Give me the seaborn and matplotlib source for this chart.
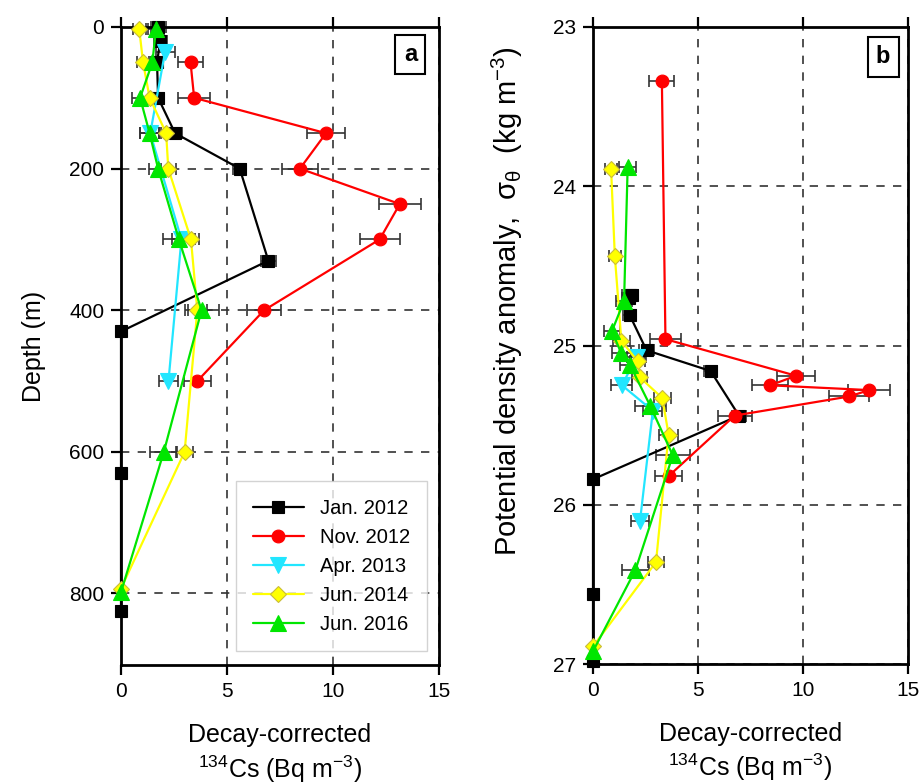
import matplotlib
matplotlib.use("Agg")
import matplotlib.pyplot as plt
import seaborn as sns
import pandas as pd

# ---------------- data ----------------
series_labels = ["Jan. 2012", "Nov. 2012", "Apr. 2013", "Jun. 2014", "Jun. 2016"]
series_colors = ["#000000", "#ff0000", "#22e6ff", "#ffff00", "#00e600"]
series_markers = ["s", "o", "v", "D", "^"]

jan2012_depth = [0, 20, 50, 100, 150, 200, 330, 430, 630, 825]
jan2012_sigma = [24.68, 24.68, 24.70, 24.81, 25.03, 25.16, 25.44, 25.84, 26.56, 26.98]
jan2012_cs = [1.75, 1.85, 1.70, 1.75, 2.55, 5.60, 6.95, 0.0, 0.0, 0.0]
jan2012_err = [0.35, 0.30, 0.30, 0.30, 0.35, 0.30, 0.35, 0.0, 0.0, 0.0]

nov2012_depth = [50, 100, 150, 200, 250, 300, 400, 500]
nov2012_sigma = [23.34, 24.96, 25.19, 25.25, 25.28, 25.32, 25.44, 25.82]
nov2012_cs = [3.28, 3.45, 9.67, 8.44, 13.15, 12.20, 6.75, 3.60]
nov2012_err = [0.60, 0.75, 0.90, 0.85, 1.00, 0.95, 0.80, 0.65]

apr2013_depth = [35, 150, 300, 500]
apr2013_sigma = [25.07, 25.25, 25.41, 26.10]
apr2013_cs = [2.08, 1.38, 2.85, 2.24]
apr2013_err = [0.45, 0.50, 0.45, 0.43]

jun2014_depth = [3, 50, 100, 150, 200, 300, 400, 600, 793]
jun2014_sigma = [23.89, 24.44, 24.97, 25.10, 25.20, 25.33, 25.56, 26.36, 26.89]
jun2014_cs = [0.86, 1.04, 1.35, 2.13, 2.23, 3.30, 3.60, 3.00, 0.0]
jun2014_err = [0.30, 0.30, 0.40, 0.35, 0.35, 0.40, 0.45, 0.40, 0.0]

jun2016_depth = [3, 50, 100, 150, 200, 300, 400, 600, 798]
jun2016_sigma = [23.88, 24.72, 24.91, 25.05, 25.12, 25.38, 25.69, 26.41, 26.92]
jun2016_cs = [1.65, 1.48, 0.90, 1.35, 1.75, 2.73, 3.80, 2.02, 0.0]
jun2016_err = [0.40, 0.40, 0.40, 0.45, 0.45, 0.75, 0.80, 0.63, 0.0]

depth_ticks = [0, 200, 400, 600, 800]
sigma_ticks = [23, 24, 25, 26, 27]
cs_ticks = [0, 5, 10, 15]

series = [
    (jan2012_depth, jan2012_sigma, jan2012_cs, jan2012_err),
    (nov2012_depth, nov2012_sigma, nov2012_cs, nov2012_err),
    (apr2013_depth, apr2013_sigma, apr2013_cs, apr2013_err),
    (jun2014_depth, jun2014_sigma, jun2014_cs, jun2014_err),
    (jun2016_depth, jun2016_sigma, jun2016_cs, jun2016_err),
]
marker_sizes = [8.2, 9.2, 11, 7.8, 11]
edge_colors = ["#000000", "#ff0000", "#22e6ff", "#c9bc3a", "#00e600"]

# ---------------- style ----------------
sns.set_style("ticks")
plt.rcParams["font.family"] = ["Liberation Sans", "DejaVu Sans"]
plt.rcParams["mathtext.default"] = "regular"
plt.rcParams["text.color"] = "black"
plt.rcParams["axes.labelcolor"] = "black"
plt.rcParams["xtick.color"] = "black"
plt.rcParams["ytick.color"] = "black"

fig = plt.figure(figsize=(9.23, 7.84), dpi=100)
ax_a = fig.add_axes([121 / 923, 1 - 665 / 784, 318 / 923, 638 / 784])
ax_b = fig.add_axes([593 / 923, 1 - 664 / 784, 315 / 923, 637 / 784])


def style_axes(ax):
    ax.set_xlim(0, 15)
    ax.set_xticks(cs_ticks)
    for sp in ax.spines.values():
        sp.set_visible(True)
        sp.set_linewidth(2.0)
        sp.set_color("black")
    ax.tick_params(direction="out", length=7, width=1.6, colors="black",
                   labelsize=15, top=True, right=False, pad=5)
    ax.grid(True, linestyle=(0, (5, 5)), color="#333333", linewidth=1.2)
    ax.set_axisbelow(True)
    ax.set_facecolor("white")


for ax, ycol in ((ax_a, 0), (ax_b, 1)):
    for i, (dep, sig, cs, err) in enumerate(series):
        yv = dep if ycol == 0 else sig
        df = pd.DataFrame({"cs": cs, "y": yv})
        ax.errorbar(df["cs"], df["y"], xerr=err, fmt="none", ecolor="#333333",
                    elinewidth=1.2, capsize=4.5, capthick=1.2, zorder=2.2,
                    clip_on=False)
        sns.lineplot(data=df, x="cs", y="y", sort=False, estimator=None,
                     color=series_colors[i], marker=series_markers[i],
                     markersize=marker_sizes[i], markeredgecolor=edge_colors[i],
                     markeredgewidth=0.8, linewidth=1.6, ax=ax,
                     label=series_labels[i] if ax is ax_a else None,
                     legend=False, clip_on=False, zorder=3 + i * 0.1)
    style_axes(ax)

xlabel_text = "Decay-corrected\n$^{134}$Cs (Bq m$^{-3}$)"

# panel a axes
ax_a.set_ylim(901, 0)
ax_a.set_yticks(depth_ticks)
ax_a.set_ylabel("Depth (m)", fontsize=18, color="black")
ax_a.yaxis.set_label_coords(-0.235, 0.5)
ax_a.set_xlabel(xlabel_text, fontsize=18, linespacing=1.25, color="black")
ax_a.xaxis.set_label_coords(0.5, -0.091)
ax_a.xaxis.label.set_va("top")

# panel b axes
ax_b.set_ylim(27, 23)
ax_b.set_yticks(sigma_ticks)
ax_b.set_ylabel("Potential density anomaly,  σ$_{θ}$  (kg m$^{-3}$)", fontsize=21,
                color="black")
ax_b.yaxis.set_label_coords(-0.215, 0.57)
ax_b.set_xlabel(xlabel_text, fontsize=18, linespacing=1.25, color="black")
ax_b.xaxis.set_label_coords(0.5, -0.091)
ax_b.xaxis.label.set_va("top")

# legend
leg_handles = [h for h in ax_a.get_lines() if h.get_label() in series_labels]
leg = ax_a.legend(handles=leg_handles, labels=series_labels, loc="lower right",
                  bbox_to_anchor=(0.962, 0.022), borderaxespad=0, fontsize=14.5,
                  frameon=True, fancybox=False, edgecolor="#c8c8c8",
                  handlelength=2.5, labelspacing=0.5, borderpad=0.85,
                  handletextpad=0.8, labelcolor="black")
leg.get_frame().set_linewidth(1.0)
leg.set_zorder(5)

# panel letters
for ax, letter, xp, yp in ((ax_a, "a", 0.910, 0.957), (ax_b, "b", 0.921, 0.953)):
    ax.text(xp, yp, letter, transform=ax.transAxes, ha="center", va="center",
            fontsize=17, fontweight="bold", color="black",
            bbox=dict(boxstyle="square,pad=0.35", fc="white", ec="black", lw=1.5))

fig.savefig("out.png", dpi=100, facecolor="white")
